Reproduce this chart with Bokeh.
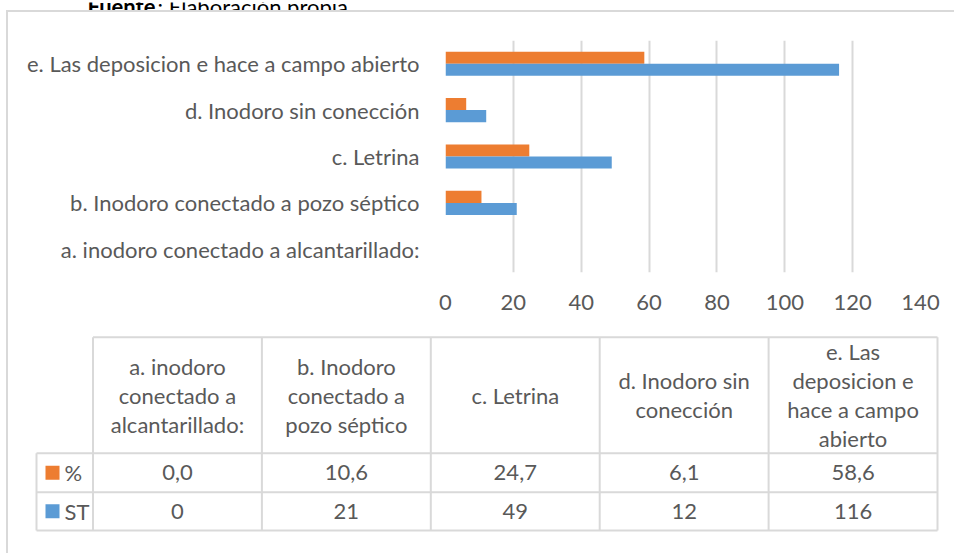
from bokeh.plotting import figure
from bokeh.models import FactorRange, FixedTicker, Range1d, ColumnDataSource
from bokeh.transform import dodge
from bokeh.layouts import column
from bokeh.embed import file_html
from bokeh.resources import INLINE
from bokeh.core.properties import value

# ---------------- data ----------------
categories = [
    "a. inodoro conectado a alcantarillado:",
    "b. Inodoro conectado a pozo séptico",
    "c. Letrina",
    "d. Inodoro sin conección",
    "e. Las deposicion e hace a campo abierto",
]
series_names = ["%", "ST"]
pct_values = [0.0, 10.6, 24.7, 6.1, 58.6]
st_values = [0, 21, 49, 12, 116]
x_ticks = [0, 20, 40, 60, 80, 100, 120, 140]
table_headers = [
    "a. inodoro\nconectado a\nalcantarillado:",
    "b. Inodoro\nconectado a\npozo séptico",
    "c. Letrina",
    "d. Inodoro sin\nconección",
    "e. Las\ndeposicion e\nhace a campo\nabierto",
]
source_bold = "Fuente"
source_rest = ": Elaboración propia."

# ---------------- style ----------------
ORANGE = "#ED7D31"
BLUE = "#5B9BD5"
TEXT = "#595959"
GRID = "#D9D9D9"
FONT = "Lato"
LABEL_SIZE = "22px"
TABLE_SIZE = "22px"

W = 946
H_TOP = 316
H_TAB = 225

# ---------------- source line (cut at top of page) ----------------
h = figure(
    width=954, height=10,
    x_range=Range1d(0, 954), y_range=Range1d(10, 0),
    output_backend="svg", toolbar_location=None,
    x_axis_type=None, y_axis_type=None,
    min_border_left=0, min_border_right=0, min_border_top=0, min_border_bottom=0,
)
h.frame_align = False
h.outline_line_color = None
h.xgrid.visible = False
h.ygrid.visible = False
h.text(x=[87], y=[4], text=[source_bold], text_align="left", text_baseline="alphabetic",
       text_font=value(FONT), text_font_style="bold", text_font_size="22px", text_color="#000000")
h.text(x=[157], y=[4], text=[source_rest], text_align="left", text_baseline="alphabetic",
       text_font=value(FONT), text_font_size="22px", text_color="#000000")

# ---------------- bar chart ----------------
p = figure(
    width=W, height=H_TOP,
    y_range=FactorRange(factors=categories),
    x_range=Range1d(0, 140),
    output_backend="svg", toolbar_location=None,
    min_border_left=437, min_border_right=34,
    min_border_top=28, min_border_bottom=56,
)
p.frame_align = False
p.outline_line_color = None
p.background_fill_color = "white"
p.border_fill_color = "white"

src = ColumnDataSource(dict(cat=categories, pct=pct_values, st=st_values))
p.hbar(y=dodge("cat", 0.13, range=p.y_range), left=0, right="pct", height=0.26,
       source=src, fill_color=ORANGE, line_color=None)
p.hbar(y=dodge("cat", -0.13, range=p.y_range), left=0, right="st", height=0.26,
       source=src, fill_color=BLUE, line_color=None)

p.xaxis.ticker = FixedTicker(ticks=x_ticks)
for ax in (p.xaxis, p.yaxis):
    ax.axis_line_color = None
    ax.major_tick_line_color = None
    ax.minor_tick_line_color = None
    ax.major_tick_out = 0
    ax.major_tick_in = 0
    ax.major_label_text_font = FONT
    ax.major_label_text_font_size = LABEL_SIZE
    ax.major_label_text_color = TEXT
p.xaxis.major_label_standoff = 22
p.yaxis.major_label_standoff = 26

p.xgrid.ticker = FixedTicker(ticks=x_ticks)
p.xgrid.grid_line_color = GRID
p.xgrid.grid_line_width = 2
p.ygrid.grid_line_color = None

# ---------------- data table ----------------
t = figure(
    width=W, height=H_TAB,
    x_range=Range1d(0, W), y_range=Range1d(H_TAB, 0),
    output_backend="svg", toolbar_location=None,
    x_axis_type=None, y_axis_type=None,
    min_border_left=0, min_border_right=0, min_border_top=0, min_border_bottom=0,
)
t.frame_align = False
t.outline_line_color = None
t.xgrid.visible = False
t.ygrid.visible = False

col0 = 84.5
col_w = 168.9
leg_left = 28
row_top, head_bot, pct_bot, st_bot = 8.7, 124.7, 163.7, 202.0
n = len(categories)
col_edges = [col0 + i * col_w for i in range(n + 1)]
right = col_edges[-1]

x0s, y0s, x1s, y1s = [], [], [], []
x0s += [col0, leg_left, leg_left, leg_left]
x1s += [right, right, right, right]
y0s += [row_top, head_bot, pct_bot, st_bot]
y1s += [row_top, head_bot, pct_bot, st_bot]
x0s.append(leg_left); x1s.append(leg_left); y0s.append(head_bot); y1s.append(st_bot)
for e in col_edges:
    x0s.append(e); x1s.append(e); y0s.append(row_top); y1s.append(st_bot)
t.segment(x0=x0s, y0=y0s, x1=x1s, y1=y1s, line_color=GRID, line_width=2)

# header texts
line_gap = 29
head_c = (row_top + head_bot) / 2
hx, hy, ht = [], [], []
for i, hd in enumerate(table_headers):
    lines = hd.split("\n")
    cx = col0 + (i + 0.5) * col_w
    for j, ln in enumerate(lines):
        hx.append(cx)
        hy.append(head_c + (j - (len(lines) - 1) / 2) * line_gap)
        ht.append(ln)
t.text(x=hx, y=hy, text=ht, text_align="center", text_baseline="middle",
       text_font=value(FONT), text_font_size=TABLE_SIZE, text_color=TEXT)

# value rows
pct_c = (head_bot + pct_bot) / 2
st_c = (pct_bot + st_bot) / 2
cxs = [col0 + (i + 0.5) * col_w for i in range(n)]
pct_txt = [f"{v:.1f}".replace(".", ",") for v in pct_values]
st_txt = [str(v) for v in st_values]
t.text(x=cxs + cxs, y=[pct_c] * n + [st_c] * n, text=pct_txt + st_txt,
       text_align="center", text_baseline="middle",
       text_font=value(FONT), text_font_size=TABLE_SIZE, text_color=TEXT)

# legend keys
t.rect(x=[44, 44], y=[pct_c, st_c], width=14, height=14,
       fill_color=[ORANGE, BLUE], line_color=None)
t.text(x=[56, 56], y=[pct_c, st_c], text=series_names,
       text_align="left", text_baseline="middle",
       text_font=value(FONT), text_font_size=TABLE_SIZE, text_color=TEXT)

chart = column(p, t, styles={
    "border-left": "2px solid #D9D9D9",
    "border-top": "2px solid #D9D9D9",
    "margin-left": "6px",
})

layout = column(h, chart)

open("out.html", "w").write(file_html(layout, INLINE))
